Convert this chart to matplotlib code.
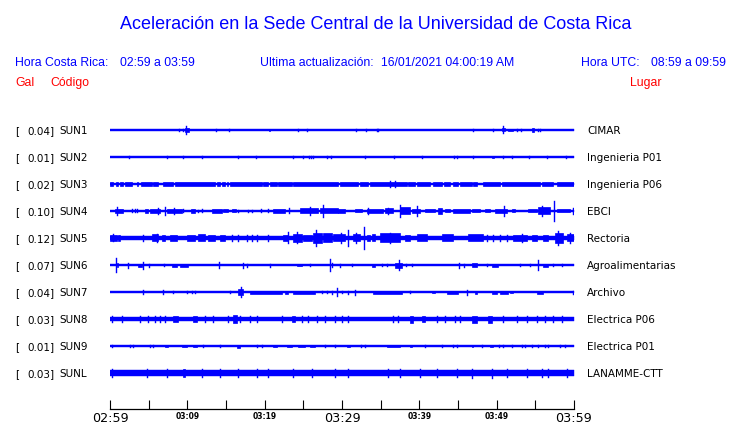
import matplotlib
matplotlib.use("Agg")
import matplotlib.pyplot as plt

# ---------------- data ----------------
codes = ["SUN1", "SUN2", "SUN3", "SUN4", "SUN5", "SUN6", "SUN7", "SUN8", "SUN9", "SUNL"]
gal_max = ["0.04", "0.01", "0.02", "0.10", "0.12", "0.07", "0.04", "0.03", "0.01", "0.03"]
places = ["CIMAR", "Ingenieria P01", "Ingenieria P06", "EBCI", "Rectoria",
          "Agroalimentarias", "Archivo", "Electrica P06", "Electrica P01", "LANAMME-CTT"]
tick_minutes = list(range(0, 61, 5))
major_labels = {0: "02:59", 30: "03:29", 60: "03:59"}
minor_labels = {10: "03:09", 20: "03:19", 40: "03:39", 50: "03:49"}

# background noise half-amplitude of each trace (relative units)
base_amp = [0.7, 0.65, 1.3, 0.7, 2.0, 0.7, 0.65, 1.8, 0.65, 2.5]

# bursts: (start minute, end minute, half amplitude) -- minutes after 02:59
sun1 = [(8.9, 8.9, 1.0), (9.4, 9.4, 1.0), (9.7, 10.2, 2.0), (9.8, 9.8, 4.0),
        (13.7, 13.7, 0.8), (15.4, 15.4, 0.8), (20.5, 20.7, 1.2), (24.3, 24.3, 1.2),
        (25.5, 25.5, 1.0), (31.8, 31.8, 0.8), (33.1, 33.1, 1.2), (34.5, 34.5, 1.2),
        (34.7, 34.7, 1.2), (46.9, 46.9, 1.3), (49.5, 49.5, 0.8), (50.7, 51.1, 1.5),
        (50.8, 50.8, 3.5), (51.5, 52.1, 1.3), (52.6, 52.6, 0.8), (53.1, 53.1, 1.2),
        (54.6, 54.8, 1.6), (55.3, 55.3, 1.2), (55.6, 55.6, 1.2)]
sun2 = [(2.5, 2.5, 0.9), (7.4, 7.4, 0.9), (9.4, 9.4, 0.9), (11.9, 11.9, 0.9),
        (16.5, 16.5, 1.2), (18.9, 18.9, 1.2), (23.7, 23.7, 0.9), (25.0, 25.0, 0.9),
        (25.7, 25.7, 1.3), (26.0, 26.0, 1.3), (26.2, 26.2, 0.9), (28.1, 28.1, 0.9),
        (28.6, 28.6, 0.9), (33.0, 33.0, 0.9), (36.7, 36.7, 0.9), (40.3, 40.3, 0.9),
        (44.5, 44.5, 1.2), (44.9, 44.9, 1.2), (46.9, 46.9, 0.9), (49.4, 49.7, 1.0),
        (50.8, 50.8, 0.9), (52.0, 52.0, 0.9), (54.2, 54.2, 0.9), (56.5, 56.5, 1.2),
        (59.0, 59.0, 1.2)]
sun3 = [(0.0, 0.39, 2.0), (0.78, 1.03, 2.0), (1.29, 1.68, 2.0), (1.94, 2.84, 2.0),
        (3.49, 3.62, 2.0), (4.01, 5.43, 2.0), (5.56, 6.21, 2.0), (6.85, 8.15, 2.0),
        (8.40, 13.58, 2.0), (13.84, 14.22, 2.0), (14.48, 14.87, 2.0), (15.13, 15.26, 2.0),
        (15.52, 19.65, 2.0), (19.78, 20.43, 2.0), (20.69, 21.59, 2.0), (21.72, 23.53, 2.0),
        (23.66, 29.48, 2.0), (29.74, 32.07, 2.0), (32.33, 33.36, 2.0), (33.62, 38.40, 2.0),
        (38.53, 39.44, 2.0), (39.69, 41.38, 2.0), (41.76, 42.93, 2.0), (43.19, 43.96, 2.0),
        (44.35, 45.0, 2.0), (45.25, 46.8, 2.0), (46.94, 47.45, 2.0), (48.23, 50.43, 2.0),
        (50.69, 55.6, 2.0), (55.86, 57.28, 2.0), (57.8, 60.0, 2.0),
        (36.2, 36.2, 3.0), (36.85, 36.85, 3.0)]
sun4 = [(0.6, 1.7, 2.0), (0.9, 0.9, 4.0), (2.84, 2.84, 1.5), (3.23, 3.23, 1.5),
        (3.49, 3.49, 1.5), (4.53, 4.91, 2.0), (5.17, 6.47, 2.0), (6.21, 6.21, 3.0),
        (7.11, 7.11, 4.0), (7.37, 9.31, 2.0), (8.28, 8.28, 3.0), (9.44, 9.44, 1.5),
        (10.47, 10.99, 2.0), (11.38, 11.38, 1.0), (11.9, 11.9, 1.5), (13.19, 14.48, 2.0),
        (14.61, 15.26, 1.5), (15.77, 16.29, 1.5), (16.55, 16.55, 1.0), (17.84, 17.84, 1.2),
        (18.36, 18.36, 1.2), (19.52, 19.52, 1.5), (20.43, 20.43, 1.5), (21.08, 22.63, 2.0),
        (23.14, 23.14, 2.5), (24.57, 26.89, 2.5), (25.86, 25.86, 4.0), (27.15, 29.48, 2.5),
        (27.54, 27.54, 6.0), (29.48, 30.39, 2.0), (31.68, 32.58, 1.5), (33.23, 35.3, 2.0),
        (33.36, 33.36, 3.0), (35.56, 36.59, 2.5), (35.95, 35.95, 3.0), (37.5, 38.79, 3.5),
        (37.5, 37.5, 6.0), (39.05, 40.08, 2.0), (39.7, 39.7, 5.0), (40.73, 42.02, 1.5),
        (42.41, 42.93, 3.0), (43.32, 43.96, 1.5), (44.35, 46.55, 2.0), (46.81, 47.84, 1.5),
        (48.49, 49.13, 1.5), (49.78, 51.33, 2.0), (50.95, 50.95, 5.0), (51.98, 52.37, 1.5),
        (54.05, 55.21, 1.5), (55.34, 56.89, 3.5), (55.86, 55.86, 5.0), (57.41, 57.41, 10.0),
        (57.8, 59.48, 1.5), (59.87, 59.87, 3.0)]
sun5 = [(0.0, 0.9, 3.0), (0.39, 0.39, 3.5), (1.03, 1.29, 2.5), (4.27, 4.27, 3.0),
        (5.43, 6.21, 3.5), (6.08, 6.08, 4.0), (6.72, 7.11, 3.0), (7.76, 8.66, 3.0),
        (9.96, 10.99, 3.0), (11.38, 12.28, 3.5), (12.67, 13.58, 3.0), (14.22, 14.87, 3.0),
        (15.77, 15.77, 3.0), (16.55, 16.55, 3.0), (17.71, 17.71, 3.0), (18.36, 18.36, 3.0),
        (19.0, 19.0, 3.0), (20.43, 20.43, 3.0), (22.37, 23.01, 3.0), (23.01, 23.01, 5.5),
        (23.66, 24.83, 4.0), (24.18, 24.18, 5.5), (24.96, 26.12, 3.0), (26.25, 27.41, 5.0),
        (26.64, 26.64, 8.0), (27.54, 28.71, 4.5), (28.84, 30.39, 3.5), (29.87, 29.87, 5.0),
        (30.78, 30.78, 8.0), (31.42, 32.33, 3.5), (31.81, 31.81, 4.5), (32.84, 32.84, 11.0),
        (33.23, 33.62, 3.0), (33.88, 34.27, 3.5), (34.91, 37.5, 4.5), (36.2, 36.2, 5.0),
        (38.14, 38.79, 3.0), (39.7, 40.99, 3.5), (42.93, 44.35, 3.5), (46.29, 48.23, 3.5),
        (48.75, 48.75, 3.0), (49.52, 49.52, 3.0), (50.43, 50.43, 3.0), (51.33, 51.33, 3.0),
        (52.11, 53.92, 3.0), (53.27, 53.27, 4.0), (54.57, 55.21, 3.0), (55.99, 56.63, 3.0),
        (57.54, 58.57, 5.0), (57.93, 57.93, 7.0), (59.09, 60.0, 3.5), (59.48, 59.48, 5.0)]
sun6 = [(0.73, 0.73, 7.0), (0.86, 1.07, 2.0), (2.28, 2.28, 2.5), (3.66, 4.09, 1.5),
        (4.22, 4.22, 3.5), (5.09, 5.09, 1.5), (6.98, 6.98, 1.0), (7.97, 8.62, 1.5),
        (9.05, 10.13, 1.5), (14.14, 14.14, 3.0), (17.24, 17.24, 2.5), (17.67, 17.67, 1.5),
        (20.69, 20.69, 1.5), (24.14, 24.78, 1.2), (25.86, 25.86, 0.8), (28.45, 28.45, 6.0),
        (28.66, 28.66, 2.0), (29.74, 29.74, 1.5), (31.25, 31.25, 1.2), (33.83, 34.27, 1.5),
        (35.13, 35.13, 1.0), (35.78, 35.78, 1.0), (36.85, 37.72, 2.5), (37.41, 37.41, 5.0),
        (38.23, 38.23, 1.3), (39.01, 39.01, 1.2), (45.13, 45.13, 2.5), (45.78, 45.78, 1.5),
        (46.77, 47.41, 2.0), (48.71, 48.71, 1.0), (49.35, 50.21, 1.5), (53.01, 53.01, 1.2),
        (54.31, 54.31, 1.2), (55.3, 55.3, 5.0), (56.03, 56.68, 1.5), (57.32, 57.32, 1.2),
        (58.41, 58.41, 0.8)]
sun7 = [(4.31, 4.31, 2.0), (6.89, 6.89, 2.0), (8.19, 8.19, 1.2), (9.91, 9.91, 0.8),
        (10.56, 10.56, 0.8), (10.99, 10.99, 1.2), (15.52, 15.52, 0.8), (16.59, 17.24, 3.0),
        (16.9, 16.9, 5.0), (18.1, 22.2, 1.5), (22.63, 23.06, 1.5), (23.7, 26.5, 1.5),
        (27.37, 27.37, 1.0), (28.02, 28.02, 1.0), (28.66, 28.66, 1.5), (29.31, 29.31, 4.0),
        (29.96, 29.96, 1.0), (30.82, 30.82, 1.5), (31.68, 31.68, 2.5), (34.05, 37.72, 1.5),
        (38.79, 38.79, 1.0), (41.59, 42.02, 1.2), (43.53, 45.04, 1.5), (46.12, 46.12, 2.5),
        (47.2, 47.41, 1.5), (49.35, 50.0, 1.5), (50.43, 51.5, 1.5), (51.72, 52.15, 1.2),
        (55.17, 56.03, 1.5), (59.91, 59.91, 1.5)]
sun8 = [(0.21, 0.21, 3.0), (1.51, 1.51, 3.0), (3.88, 3.88, 3.0), (4.96, 4.96, 3.0),
        (5.82, 5.82, 3.0), (6.47, 6.47, 3.0), (7.11, 7.11, 3.0), (8.19, 8.83, 3.0),
        (10.77, 11.21, 3.0), (12.28, 12.28, 3.0), (13.36, 13.36, 3.0), (15.3, 15.3, 3.0),
        (15.95, 16.38, 4.0), (16.81, 16.81, 3.0), (18.1, 18.1, 3.0), (18.97, 18.97, 3.0),
        (22.2, 22.2, 3.0), (23.5, 23.92, 3.0), (24.78, 24.78, 3.0), (25.65, 25.65, 3.0),
        (26.72, 26.72, 3.0), (27.8, 27.8, 3.0), (29.09, 29.09, 3.0), (29.96, 29.96, 3.0),
        (30.82, 30.82, 3.0), (36.63, 36.63, 3.0), (37.28, 37.28, 3.0), (38.79, 39.22, 3.5),
        (40.3, 40.73, 3.0), (42.24, 42.24, 3.0), (43.32, 43.32, 3.0), (44.61, 44.61, 3.0),
        (45.25, 45.25, 3.0), (46.77, 47.41, 3.5), (48.92, 49.35, 3.5), (50.86, 50.86, 3.0),
        (52.59, 52.59, 3.0), (53.88, 53.88, 3.0), (55.17, 55.17, 3.0), (56.25, 56.25, 3.0),
        (57.32, 57.32, 3.0), (58.41, 58.41, 3.0)]
sun9 = [(0.21, 0.21, 1.0), (2.59, 2.59, 1.0), (3.02, 3.02, 1.0), (5.17, 5.17, 1.0),
        (5.6, 5.6, 1.0), (7.11, 7.54, 1.0), (9.27, 9.91, 1.0), (10.77, 11.21, 1.0),
        (12.07, 12.07, 1.0), (14.22, 14.22, 1.0), (16.38, 16.81, 1.5), (18.97, 18.97, 1.0),
        (19.61, 19.61, 1.0), (21.12, 21.55, 1.0), (22.85, 23.49, 1.0), (24.35, 25.22, 1.0),
        (25.86, 26.51, 1.0), (27.8, 27.8, 1.0), (29.09, 29.09, 1.0), (30.6, 31.03, 1.0),
        (32.42, 32.42, 1.0), (32.97, 32.97, 1.0), (35.78, 37.5, 1.2), (38.79, 39.01, 1.0),
        (40.73, 40.73, 1.0), (42.89, 42.89, 1.0), (44.39, 44.39, 1.0), (44.83, 44.83, 1.0),
        (46.77, 46.98, 1.0), (48.06, 48.06, 1.0), (49.14, 49.57, 1.0), (50.34, 50.34, 1.0),
        (50.86, 50.86, 1.0), (51.94, 51.94, 1.0), (53.23, 53.23, 1.0), (53.66, 53.66, 1.0),
        (54.53, 54.53, 1.0), (55.39, 55.39, 1.0), (56.25, 56.25, 1.0), (56.68, 56.68, 1.0),
        (58.19, 58.19, 1.0), (58.84, 58.84, 1.0)]
sunl = [(0.21, 0.21, 3.8), (4.74, 4.74, 3.8), (7.33, 7.33, 3.8), (9.48, 9.7, 3.8),
        (11.85, 11.85, 3.8), (14.22, 14.22, 3.8), (16.59, 16.59, 3.8), (18.97, 18.97, 3.8),
        (20.47, 20.47, 3.8), (23.71, 23.71, 3.8), (26.08, 26.08, 3.8), (29.09, 29.09, 3.8),
        (30.82, 30.82, 3.8), (35.99, 35.99, 3.8), (37.5, 37.5, 3.8), (40.09, 40.09, 3.8),
        (42.24, 42.24, 3.8), (44.83, 44.83, 3.8), (46.77, 46.77, 4.5), (49.35, 49.35, 4.5),
        (51.29, 51.29, 3.8), (53.88, 53.88, 3.8), (55.82, 55.82, 3.8), (56.68, 56.68, 3.8),
        (59.05, 59.05, 3.8)]
bursts = [sun1, sun2, sun3, sun4, sun5, sun6, sun7, sun8, sun9, sunl]

# ---------------- styling ----------------
BLUE = "#0000ff"
RED = "#ff0000"
W, H = 740, 423
HEAD = ["Liberation Sans", "DejaVu Sans"]
LAB = ["DejaVu Sans"]
HFS = 8.8

fig = plt.figure(figsize=(W / 100, H / 100), dpi=100)
fig.patch.set_facecolor("white")


def fx(px):
    return px / W


def fy(py):
    return 1 - py / H


# trace axes: trace i centred at pixel row 130 + 27 i
ax = fig.add_axes([fx(110), fy(386.5), fx(574) - fx(110), 270 / H])
ax.set_xlim(0, 60)
ax.set_ylim(9.5, -0.5)
ax.axis("off")
PX = 1 / 27.0   # one pixel in trace units

for i, ev in enumerate(bursts):
    b = base_amp[i] * PX
    ax.fill_between([0, 60], [i - b, i - b], [i + b, i + b],
                    facecolor=BLUE, edgecolor=BLUE, lw=0.3)
    seg = [e for e in ev if e[1] > e[0]]
    spk = [e for e in ev if e[1] == e[0]]
    if seg:
        ax.bar([(t0 + t1) / 2 for t0, t1, a in seg],
               [2 * a * PX for t0, t1, a in seg],
               width=[t1 - t0 for t0, t1, a in seg],
               bottom=[i - a * PX for t0, t1, a in seg],
               facecolor=BLUE, edgecolor=BLUE, lw=0.5)
    if spk:
        lc = ax.vlines([t0 for t0, t1, a in spk],
                       [i - a * PX for t0, t1, a in spk],
                       [i + a * PX for t0, t1, a in spk],
                       colors=BLUE, lw=1.0)
        lc.set_capstyle("projecting")

# time axis
tax = fig.add_axes([fx(110), fy(409), fx(574) - fx(110), 12 / H])
tax.set_xlim(0, 60)
tax.set_ylim(0, 1)
for s in ["top", "left", "right"]:
    tax.spines[s].set_visible(False)
tax.spines["bottom"].set_linewidth(0.9)
tax.set_yticks([])
tax.set_xticks(tick_minutes)
labels = [major_labels.get(m, minor_labels.get(m, "")) for m in tick_minutes]
tax.set_xticklabels(labels)
tax.tick_params(axis="x", direction="in", length=6.3, width=0.8, color="black", pad=1.8)
for m, lab in zip(tick_minutes, tax.get_xticklabels()):
    lab.set_family(LAB)
    if m in major_labels:
        lab.set_fontsize(9.2)
    else:
        lab.set_fontsize(5.5)
        lab.set_fontweight("bold")
tax.patch.set_alpha(0)

# header texts
fig.text(fx(375.5), fy(29), "Aceleración en la Sede Central de la Universidad de Costa Rica",
         ha="center", va="baseline", color=BLUE, fontsize=13, family=HEAD)
fig.text(fx(15), fy(66), "Hora Costa Rica:", color=BLUE, fontsize=HFS, family=HEAD, va="baseline")
fig.text(fx(120), fy(66), "02:59 a 03:59", color=BLUE, fontsize=HFS, family=HEAD, va="baseline")
fig.text(fx(260), fy(66), "Ultima actualización:", color=BLUE, fontsize=HFS, family=HEAD, va="baseline")
fig.text(fx(381), fy(66), "16/01/2021 04:00:19 AM", color=BLUE, fontsize=HFS, family=HEAD, va="baseline")
fig.text(fx(581), fy(66), "Hora UTC:", color=BLUE, fontsize=HFS, family=HEAD, va="baseline")
fig.text(fx(651), fy(66), "08:59 a 09:59", color=BLUE, fontsize=HFS, family=HEAD, va="baseline")
fig.text(fx(15), fy(86), "Gal", color=RED, fontsize=HFS, family=HEAD, va="baseline")
fig.text(fx(50), fy(86), "Código", color=RED, fontsize=HFS, family=HEAD, va="baseline")
fig.text(fx(630), fy(86), "Lugar", color=RED, fontsize=HFS, family=HEAD, va="baseline")

# station labels
for i in range(len(codes)):
    yb = 130 + 27 * i + 4.3
    fig.text(fx(15), fy(yb), "[", fontsize=7.5, family=LAB, va="baseline", color="black")
    fig.text(fx(27), fy(yb), gal_max[i] + "]", fontsize=7.5, family=LAB, va="baseline", color="black")
    fig.text(fx(59), fy(yb), codes[i], fontsize=7.5, family=LAB, va="baseline", color="black")
    fig.text(fx(587), fy(yb), places[i], fontsize=7.5, family=LAB, va="baseline", color="black")

fig.savefig("out.png", dpi=100, facecolor="white")
